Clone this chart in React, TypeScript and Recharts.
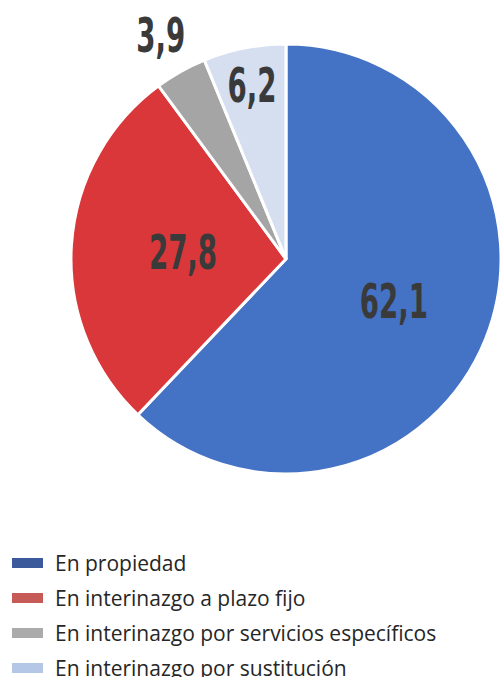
import { PieChart, Pie, Cell } from 'recharts';

const categories = [
  'En propiedad',
  'En interinazgo a plazo fijo',
  'En interinazgo por servicios específicos',
  'En interinazgo por sustitución',
];
const values = [62.1, 27.8, 3.9, 6.2];
const valueLabels = ['62,1', '27,8', '3,9', '6,2'];

const sliceColors = ['#4472C4', '#D9373A', '#A5A5A5', '#D6DFF0'];
const legendColors = ['#3A5A9C', '#C55A57', '#ABABAB', '#B4C7E7'];
// label distance from centre, as a fraction of the radius
const labelRadius = [0.54, 0.48, 1.19, 0.82];

const data = categories.map((name, i) => ({ name, value: values[i] }));

const RAD = Math.PI / 180;

function renderLabel(props: any) {
  const { cx, cy, midAngle, outerRadius, index } = props;
  const r = outerRadius * labelRadius[index];
  const x = cx + r * Math.cos(-midAngle * RAD);
  const y = cy + r * Math.sin(-midAngle * RAD);
  return (
    <text
      x={0}
      y={0}
      transform={`translate(${x},${y}) scale(0.64,1)`}
      fill="#3A3A3A"
      textAnchor="middle"
      dominantBaseline="central"
      fontFamily="'DejaVu Sans Condensed', 'DejaVu Sans', sans-serif"
      fontWeight="bold"
      fontSize={48}
    >
      {valueLabels[index]}
    </text>
  );
}

function LegendList() {
  return (
    <div
      style={{
        position: 'absolute',
        left: 0,
        top: 545,
        width: 502,
        fontFamily: "'Open Sans', sans-serif",
        fontSize: 21,
        color: '#262626',
      }}
    >
      {categories.map((c, i) => (
        <div key={c} style={{ display: 'flex', alignItems: 'center', height: 35, whiteSpace: 'nowrap' }}>
          <span
            style={{
              display: 'inline-block',
              width: 31,
              height: 10,
              background: legendColors[i],
              marginLeft: 12,
              marginRight: 12,
            }}
          />
          <span>{c}</span>
        </div>
      ))}
    </div>
  );
}

export default function App() {
  return (
    <div style={{ position: 'absolute', left: 0, top: 0, width: 502, height: 677, background: '#fff', overflow: 'hidden' }}>
      <PieChart width={502} height={677} margin={{ top: 0, right: 0, bottom: 0, left: 0 }}>
        <Pie
          data={data}
          dataKey="value"
          nameKey="name"
          cx={286}
          cy={259}
          outerRadius={215}
          startAngle={90}
          endAngle={-270}
          stroke="#ffffff"
          strokeWidth={3}
          label={renderLabel}
          labelLine={false}
          isAnimationActive={false}
        >
          {data.map((d, i) => (
            <Cell key={d.name} fill={sliceColors[i]} />
          ))}
        </Pie>
      </PieChart>
      <LegendList />
    </div>
  );
}
